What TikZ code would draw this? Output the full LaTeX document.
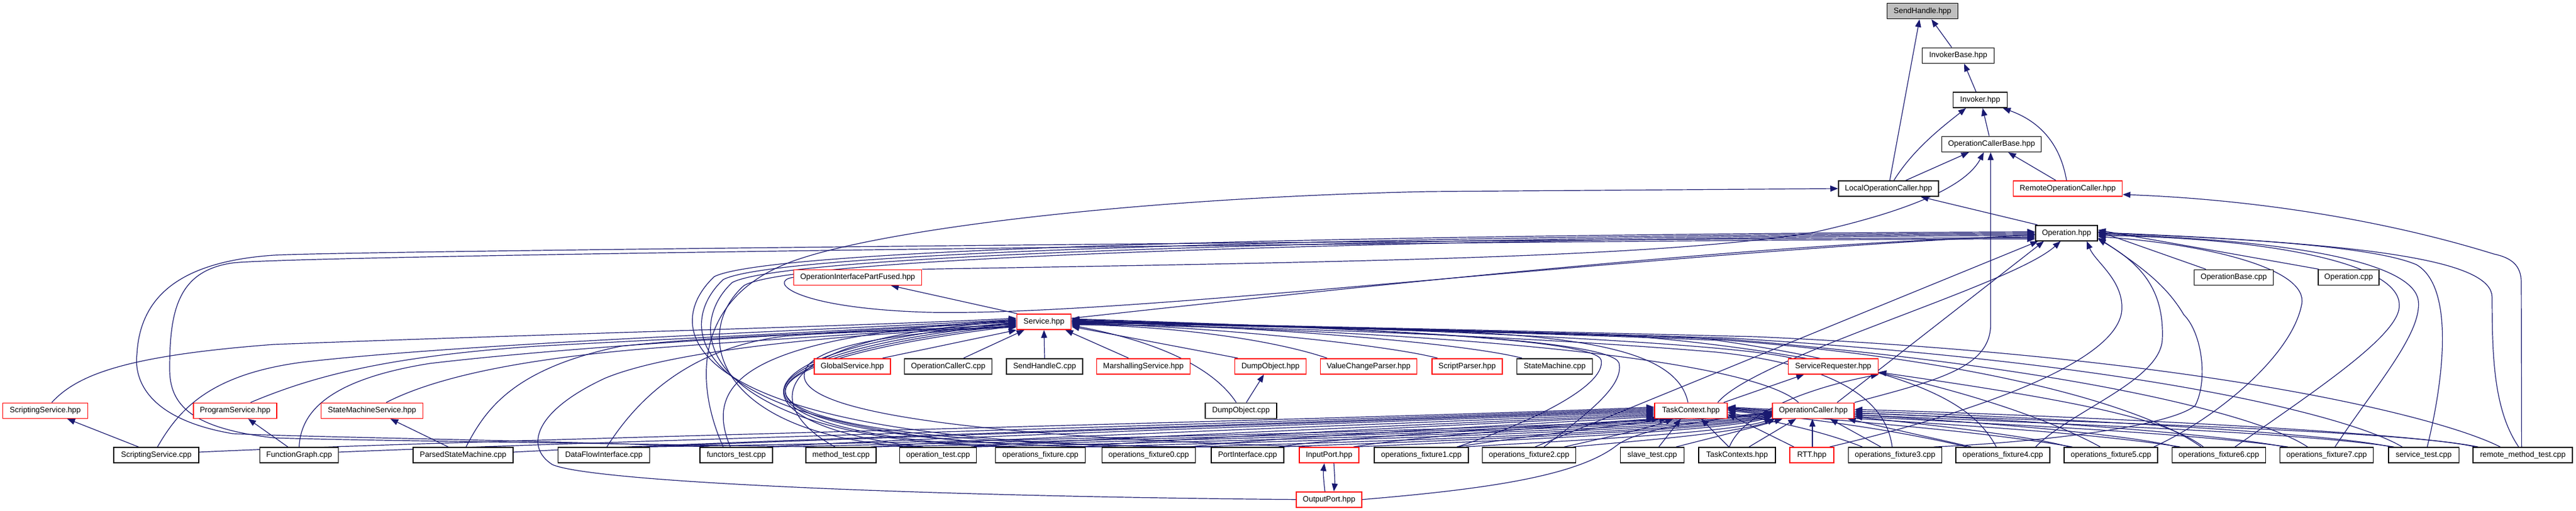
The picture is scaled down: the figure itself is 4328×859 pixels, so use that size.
\documentclass[tikz,border=0pt]{standalone}
\usepackage{fontspec}
\newfontfamily\lsans{Liberation Sans}
\usetikzlibrary{arrows.meta}
\pgfdeclarelayer{bg}
\pgfsetlayers{bg,main}
\definecolor{edgeblue}{HTML}{191970}
\definecolor{rootgray}{HTML}{BFBFBF}
\definecolor{redline}{HTML}{FF0000}
\tikzset{
 nd/.style={draw=black, line width=1.6pt, fill=white, minimum height=26pt, inner sep=0pt, font=\lsans\fontsize{13pt}{15pt}\selectfont, text=black},
 rnd/.style={nd, draw=redline},
 rootnd/.style={nd, fill=rootgray},
 e/.style={draw=edgeblue, line width=1.2pt, -{Triangle[length=13pt,width=10pt]}},
}
\begin{document}
\begin{tikzpicture}[x=1pt,y=-1pt]
\useasboundingbox (0,0) rectangle (4328,859);
% ---------- nodes ----------
\node[rootnd,minimum width=119pt] (root) at (3230,18.7) {SendHandle.hpp};
\node[nd,minimum width=121pt] (ib) at (3290,93.3) {InvokerBase.hpp};
\node[nd,minimum width=91pt] (inv) at (3327,168) {Invoker.hpp};
\node[nd,minimum width=167pt] (ocb) at (3346,242.3) {OperationCallerBase.hpp};
\node[nd,minimum width=168pt] (loc) at (3173,317) {LocalOperationCaller.hpp};
\node[rnd,minimum width=183pt] (roc) at (3474,317) {RemoteOperationCaller.hpp};
\node[nd,minimum width=104pt] (op) at (3472,391.7) {Operation.hpp};
\node[rnd,minimum width=215pt] (oipf) at (1441,466.3) {OperationInterfacePartFused.hpp};
\node[nd,minimum width=133pt] (obcpp) at (3753,466.3) {OperationBase.cpp};
\node[nd,minimum width=102pt] (opcpp) at (3946,466.3) {Operation.cpp};
\node[rnd,minimum width=91pt] (svc) at (1754,541) {Service.hpp};
\node[rnd,minimum width=128pt] (gs) at (1432,615.7) {GlobalService.hpp};
\node[nd,minimum width=147pt] (occ) at (1593,615.7) {OperationCallerC.cpp};
\node[nd,minimum width=128pt] (shc) at (1755,615.7) {SendHandleC.cpp};
\node[rnd,minimum width=157pt] (ms) at (1921,615.7) {MarshallingService.hpp};
\node[rnd,minimum width=120pt] (doh) at (2134.5,615.7) {DumpObject.hpp};
\node[rnd,minimum width=162pt] (vcp) at (2299.5,615.7) {ValueChangeParser.hpp};
\node[rnd,minimum width=118pt] (sp) at (2465,615.7) {ScriptParser.hpp};
\node[nd,minimum width=127pt] (smc) at (2612,615.7) {StateMachine.cpp};
\node[rnd,minimum width=151pt] (sr) at (3080,615.7) {ServiceRequester.hpp};
\node[rnd,minimum width=143pt] (ssh) at (76,690.3) {ScriptingService.hpp};
\node[rnd,minimum width=140pt] (psh) at (395,690.3) {ProgramService.hpp};
\node[rnd,minimum width=171pt] (smsh) at (625,690.3) {StateMachineService.hpp};
\node[nd,minimum width=120pt] (docpp) at (2085,690.3) {DumpObject.cpp};
\node[rnd,minimum width=122pt] (tc) at (2841,690.3) {TaskContext.hpp};
\node[rnd,minimum width=137pt] (oc) at (3046.6,690.3) {OperationCaller.hpp};
\node[nd,minimum width=143pt] (sscpp) at (262.6,765) {ScriptingService.cpp};
\node[nd,minimum width=132pt] (fg) at (502.6,765) {FunctionGraph.cpp};
\node[nd,minimum width=168pt] (psm) at (778,765) {ParsedStateMachine.cpp};
\node[nd,minimum width=154pt] (dfi) at (1014.6,765) {DataFlowInterface.cpp};
\node[nd,minimum width=122pt] (ft) at (1237,765) {functors\_test.cpp};
\node[nd,minimum width=118pt] (mt) at (1413,765) {method\_test.cpp};
\node[nd,minimum width=129pt] (ot) at (1576,765) {operation\_test.cpp};
\node[nd,minimum width=151pt] (of) at (1748,765) {operations\_fixture.cpp};
\node[nd,minimum width=157pt] (of0) at (1930,765) {operations\_fixture0.cpp};
\node[nd,minimum width=122.5pt] (pi) at (2096,765) {PortInterface.cpp};
\node[rnd,minimum width=100pt] (ip) at (2233,765) {InputPort.hpp};
\node[nd,minimum width=157.5pt] (of1) at (2388,765) {operations\_fixture1.cpp};
\node[nd,minimum width=157pt] (of2) at (2569,765) {operations\_fixture2.cpp};
\node[nd,minimum width=107pt] (st) at (2776,765) {slave\_test.cpp};
\node[nd,minimum width=129pt] (tcs) at (2918.6,765) {TaskContexts.hpp};
\node[rnd,minimum width=74pt] (rtt) at (3044,765) {RTT.hpp};
\node[nd,minimum width=157pt] (of3) at (3184,765) {operations\_fixture3.cpp};
\node[nd,minimum width=157.5pt] (of4) at (3365,765) {operations\_fixture4.cpp};
\node[nd,minimum width=157pt] (of5) at (3546.7,765) {operations\_fixture5.cpp};
\node[nd,minimum width=157pt] (of6) at (3728,765) {operations\_fixture6.cpp};
\node[nd,minimum width=157pt] (of7) at (3909,765) {operations\_fixture7.cpp};
\node[nd,minimum width=118.5pt] (svt) at (4072,765) {service\_test.cpp};
\node[nd,minimum width=167pt] (rmt) at (4238.6,765) {remote\_method\_test.cpp};
\node[rnd,minimum width=110.5pt] (outp) at (2233,839.7) {OutputPort.hpp};
% ---------- edges ----------
\begin{pgfonlayer}{bg}
\fill[white] (0,0) rectangle (4328,859);
% top cluster
\draw[e] ([xshift=-11pt]ib.north) -- ([xshift=15pt]root.south);
\draw[e] ([xshift=2pt]loc.north) -- ([xshift=-5pt]root.south);
\draw[e] ([xshift=-7pt]inv.north) -- ([xshift=10pt]ib.south);
\draw[e] ([xshift=-4pt]ocb.north) -- ([xshift=4pt]inv.south);
\draw[e] ([xshift=9pt]loc.north) .. controls (3215,250) and (3265,212) .. ([xshift=-24pt]inv.south);
\draw[e] ([xshift=-2pt]roc.north) .. controls (3462,245) and (3430,205) .. ([xshift=38pt]inv.south);
\draw[e] ([xshift=29pt]loc.north) -- ([xshift=-38pt]ocb.south);
\draw[e] ([xshift=-20pt]roc.north) -- ([xshift=28pt]ocb.south);
\draw[e] ([xshift=-49pt]op.north) -- ([xshift=54pt]loc.south);
\draw[e] ([xshift=-2pt]rmt.north) -- (4236,475) .. controls (4236,445) and (4218,433) .. (4190,427) .. controls (4000,368) and (3780,335) .. ([yshift=-10pt]roc.east);
\draw[e] ([xshift=-22pt]ft.north) .. controls (1165,640) and (1165,490) .. (1350,433) .. controls (1500,385) and (1900,333) .. (2400,322) -- (loc.west);
\draw[e] (oipf.north east) .. controls (2300,440) and (2800,432) .. (3050,390) .. controls (3250,345) and (3310,300) .. ([xshift=-13pt]ocb.south);
\draw[e] (oc.north east) .. controls (3250,640) and (3344.5,620) .. (3344.5,545) -- ([xshift=-1.5pt]ocb.south);
% Service.hpp
\draw[e] ([xshift=-45pt]svc.north) -- ([xshift=56pt]oipf.south);
\draw[e] ([xshift=11pt]ssh.north) .. controls (130,630) and (210,598) .. (460,579) .. controls (900,562) and (1450,548) .. ([yshift=6pt]svc.west);
\draw[e] ([xshift=2pt]sscpp.north) .. controls (300,690) and (350,630) .. (507,609) .. controls (800,575) and (1450,552) .. ([yshift=4pt]svc.west);
\draw[e] ([xshift=26pt]psh.north) .. controls (520,635) and (640,600) .. (900,582) .. controls (1200,566) and (1500,552) .. ([yshift=2pt]svc.west);
\draw[e] (fg.north) .. controls (505,700) and (540,640) .. (722,611) .. controls (1000,578) and (1450,556) .. (svc.west);
\draw[e] ([xshift=24pt]smsh.north) .. controls (720,640) and (850,605) .. (1100,585) .. controls (1350,566) and (1550,556) .. ([yshift=-2pt]svc.west);
\draw[e] ([xshift=5pt]psm.north) .. controls (815,690) and (860,620) .. (1043,582) .. controls (1250,560) and (1500,558) .. ([yshift=-4pt]svc.west);
\draw[e] ([xshift=5pt]dfi.north) .. controls (1065,680) and (1150,585) .. (1320,565) .. controls (1450,555) and (1600,556) .. ([yshift=-6pt]svc.west);
\draw[e] (outp.west) .. controls (1600,835) and (1000,812) .. (928,781) .. controls (880,750) and (900,690) .. (1016,636) .. controls (1150,580) and (1500,558) .. ([yshift=-8pt]svc.west);
\draw[e] ([xshift=-10pt]ft.north) .. controls (1180,640) and (1260,565) .. ([yshift=3pt]svc.west);
\draw[e] ([xshift=-10pt]mt.north) .. controls (1290,690) and (1260,570) .. ([yshift=1pt]svc.west);
\draw[e] ([xshift=-25pt]ot.north) .. controls (1250,720) and (1180,590) .. ([yshift=-1pt]svc.west);
\draw[e] ([xshift=-40pt]of.north) .. controls (1220,735) and (1160,600) .. ([yshift=-3pt]svc.west);
\draw[e] ([xshift=-55pt]of0.north) .. controls (1200,745) and (1140,610) .. ([yshift=-5pt]svc.west);
\draw[e] ([xshift=-45pt]pi.north) .. controls (1180,750) and (1120,620) .. ([yshift=-7pt]svc.west);
\draw[e] ([xshift=-30pt]ip.north) .. controls (1700,735) and (1330,700) .. (1352,625) .. controls (1365,575) and (1550,556) .. ([yshift=-9pt]svc.west);
\draw[e] ([xshift=51pt]gs.north) -- (svc.south west);
\draw[e] ([xshift=26pt]occ.north) -- ([xshift=-33pt]svc.south);
\draw[e] (shc.north) -- (svc.south);
\draw[e] ([xshift=-25pt]ms.north) -- ([xshift=36pt]svc.south);
\draw[e] ([xshift=-55pt]doh.north) -- ([yshift=-8pt]svc.east);
\draw[e] ([xshift=-8pt]docpp.north) .. controls (2040,620) and (1950,575) .. ([yshift=-6pt]svc.east);
\draw[e] ([xshift=-70pt]vcp.north) .. controls (2150,575) and (2000,550) .. ([yshift=-4pt]svc.east);
\draw[e] ([xshift=-50pt]sp.north) .. controls (2330,580) and (2050,550) .. ([yshift=-2pt]svc.east);
\draw[e] ([xshift=-55pt]smc.north) .. controls (2450,575) and (2100,548) .. (svc.east);
\draw[e] ([xshift=-5pt]tc.north) .. controls (2820,600) and (2700,565) .. (2400,556) .. controls (2100,548) and (1900,545) .. ([yshift=2pt]svc.east);
\draw[e] ([xshift=60pt]of1.north) .. controls (2560,715) and (2700,650) .. (2690,605) .. controls (2680,570) and (2300,552) .. ([yshift=4pt]svc.east);
\draw[e] ([xshift=25pt]of2.north) .. controls (2660,700) and (2730,650) .. (2720,610) .. controls (2705,570) and (2300,552) .. ([yshift=5pt]svc.east);
\draw[e] ([xshift=-70pt]sr.north) .. controls (2900,575) and (2300,548) .. ([yshift=1pt]svc.east);
\draw[e] ([xshift=-25pt]oc.north) .. controls (2950,610) and (2500,558) .. ([yshift=-3pt]svc.east);
\draw[e] ([xshift=-5pt]of3.north) .. controls (3170,680) and (3100,615) .. (2884,592) .. controls (2500,560) and (2000,546) .. ([yshift=-5pt]svc.east);
\draw[e] ([xshift=-11pt]of4.north) .. controls (3320,690) and (3250,625) .. (2884,572) .. controls (2500,556) and (2000,546) .. ([yshift=-1pt]svc.east);
\draw[e] ([xshift=-18pt]of5.north) .. controls (3400,680) and (3100,590) .. (2700,562) .. controls (2300,551) and (2000,545) .. ([yshift=1pt]svc.east);
\draw[e] ([xshift=-30pt]of6.north) .. controls (3600,680) and (3300,595) .. (2800,565) .. controls (2300,551) and (2000,545) .. ([yshift=3pt]svc.east);
\draw[e] ([xshift=-32pt]of7.north) .. controls (3800,700) and (3500,620) .. (2900,570) .. controls (2300,551) and (2000,545) .. ([yshift=-2pt]svc.east);
\draw[e] ([xshift=-36pt]svt.north) .. controls (3950,700) and (3600,610) .. (2900,568) .. controls (2300,551) and (2000,545) .. (svc.east);
\draw[e] ([xshift=-38pt]rmt.north) .. controls (4100,700) and (3700,600) .. (2950,566) .. controls (2300,550) and (2000,545) .. ([yshift=2pt]svc.east);
% TaskContext.hpp
\draw[e] ([yshift=5pt]sscpp.east) .. controls (800,738) and (2300,705) .. ([yshift=6pt]tc.west);
\draw[e] ([yshift=5pt]fg.east) .. controls (1000,742) and (2300,706) .. ([yshift=4pt]tc.west);
\draw[e] ([yshift=5pt]psm.east) .. controls (1200,742) and (2300,707) .. ([yshift=2pt]tc.west);
\draw[e] ([xshift=-10pt]dfi.north east) .. controls (1400,738) and (2300,708) .. (tc.west);
\draw[e] ([xshift=-10pt]ft.north east) .. controls (1500,738) and (2350,708) .. ([yshift=-2pt]tc.west);
\draw[e] ([xshift=-10pt]mt.north east) .. controls (1650,738) and (2400,710) .. ([yshift=-4pt]tc.west);
\draw[e] ([xshift=-10pt]ot.north east) .. controls (1800,738) and (2450,712) .. ([yshift=-6pt]tc.west);
\draw[e] ([xshift=-10pt]of.north east) .. controls (1950,738) and (2500,712) .. ([yshift=-8pt]tc.west);
\draw[e] ([xshift=-10pt]of0.north east) .. controls (2100,738) and (2550,714) .. ([yshift=-10pt]tc.west);
\draw[e] ([xshift=-10pt]pi.north east) .. controls (2250,735) and (2600,716) .. (tc.south west);
\draw[e] ([xshift=-10pt]ip.north east) .. controls (2400,730) and (2650,716) .. ([xshift=9pt]tc.south west);
\draw[e] ([xshift=-20pt]of1.north east) .. controls (2550,735) and (2700,718) .. ([xshift=-40pt]tc.south);
\draw[e] ([xshift=-20pt]of2.north east) .. controls (2700,735) and (2770,720) .. ([xshift=-30pt]tc.south);
\draw[e] ([xshift=11pt]st.north) -- ([xshift=-17pt]tc.south);
\draw[e] ([xshift=-14pt]tcs.north) -- ([xshift=17pt]tc.south);
\draw[e] ([xshift=-30pt]rtt.north) -- ([yshift=-6pt]tc.east);
\draw[e] ([xshift=-55pt]of3.north) .. controls (3050,720) and (2960,705) .. ([yshift=-3pt]tc.east);
\draw[e] ([xshift=-60pt]of4.north) .. controls (3150,715) and (3000,700) .. (tc.east);
\draw[e] ([xshift=-65pt]of5.north) .. controls (3300,720) and (3050,705) .. ([yshift=2pt]tc.east);
\draw[e] ([xshift=-65pt]of6.north) .. controls (3450,718) and (3100,706) .. ([yshift=3pt]tc.east);
\draw[e] ([xshift=-65pt]of7.north) .. controls (3600,718) and (3150,706) .. ([yshift=4pt]tc.east);
\draw[e] ([xshift=-50pt]svt.north) .. controls (3800,718) and (3200,706) .. ([yshift=5pt]tc.east);
\draw[e] ([xshift=-75pt]rmt.north) .. controls (4000,718) and (3300,706) .. ([yshift=6pt]tc.east);
% OperationCaller.hpp
\draw[e] ([xshift=-5pt]dfi.north east) .. controls (1450,745) and (2650,724) .. ([yshift=-3pt]oc.west);
\draw[e] ([xshift=-5pt]ft.north east) .. controls (1600,745) and (2700,725) .. ([yshift=-4pt]oc.west);
\draw[e] ([xshift=-5pt]mt.north east) .. controls (1750,745) and (2750,725) .. ([yshift=-5pt]oc.west);
\draw[e] ([xshift=-5pt]ot.north east) .. controls (1900,745) and (2800,726) .. ([yshift=-6pt]oc.west);
\draw[e] ([xshift=-5pt]of.north east) .. controls (2050,745) and (2820,727) .. ([yshift=-7pt]oc.west);
\draw[e] ([xshift=-5pt]of0.north east) .. controls (2200,745) and (2840,728) .. ([yshift=-8pt]oc.west);
\draw[e] ([xshift=-5pt]pi.north east) .. controls (2300,745) and (2860,728) .. ([yshift=-9pt]oc.west);
\draw[e] ([xshift=-5pt]ip.north east) .. controls (2400,745) and (2880,729) .. ([yshift=-10pt]oc.west);
\draw[e] ([xshift=-5pt]of1.north east) .. controls (2550,745) and (2900,730) .. (oc.south west);
\draw[e] ([xshift=-5pt]of2.north east) .. controls (2700,745) and (2920,730) .. ([xshift=5pt]oc.south west);
\draw[e] (outp.east) .. controls (2500,822) and (2650,800) .. (2716,749) .. controls (2760,715) and (2900,705) .. ([yshift=-2pt]oc.west);
\draw[e] ([xshift=40pt]st.north) .. controls (2880,735) and (2960,715) .. ([xshift=-52pt]oc.south);
\draw[e] ([xshift=20pt]tcs.north) -- ([xshift=-29pt]oc.south);
\draw[e] ([xshift=1pt]rtt.north) -- ([xshift=-1.6pt]oc.south);
\draw[e] ([xshift=-24pt]of3.north) -- ([xshift=28pt]oc.south);
\draw[e] ([xshift=-53pt]of4.north) -- ([xshift=58pt]oc.south);
\draw[e] ([xshift=-70pt]of5.north) .. controls (3400,730) and (3200,710) .. ([yshift=-10pt]oc.east);
\draw[e] ([xshift=-70pt]of6.north) .. controls (3550,725) and (3250,705) .. ([yshift=-7pt]oc.east);
\draw[e] ([xshift=-70pt]of7.north) .. controls (3700,725) and (3300,700) .. ([yshift=-4pt]oc.east);
\draw[e] ([xshift=-55pt]svt.north) .. controls (3900,725) and (3350,698) .. ([yshift=-1pt]oc.east);
\draw[e] ([xshift=-80pt]rmt.north) .. controls (4050,725) and (3400,696) .. ([yshift=2pt]oc.east);
% ServiceRequester.hpp
\draw[e] ([xshift=55pt]tc.north) -- ([xshift=-49pt]sr.south);
\draw[e] ([xshift=-13pt]tcs.north) .. controls (2930,690) and (3050,650) .. (sr.south east);
\draw[e] ([xshift=-26pt]of6.north) .. controls (3640,705) and (3500,675) .. ([yshift=-10pt]sr.east);
% Operation.hpp
\draw[e] ([yshift=6pt]svc.east) .. controls (2300,480) and (3000,405) .. ([yshift=-6pt]op.west);
\draw[e] (oipf.west) .. controls (1290,472) and (1330,518) .. (1560,525) .. controls (1900,532) and (2700,430) .. ([yshift=-3pt]op.west);
\draw[e] ([xshift=-45pt]ft.north) .. controls (900,740) and (520,735) .. (391,729) .. controls (250,705) and (225,640) .. (230,596) .. controls (235,500) and (300,440) .. (460,429) .. controls (600,421) and (2800,400) .. ([yshift=-8pt]op.west);
\draw[e] ([xshift=-45pt]mt.north) .. controls (1000,745) and (560,740) .. (460,736) .. controls (320,720) and (285,680) .. (285,620) .. controls (285,520) and (300,455) .. (391,442) .. controls (500,428) and (2800,402) .. ([yshift=-10pt]op.west);
\draw[e] ([xshift=-35pt]ot.north) .. controls (1200,735) and (1160,560) .. (1250,480) .. controls (1350,420) and (2800,398) .. ([yshift=-4pt]op.west);
\draw[e] ([xshift=-50pt]of.north) .. controls (1190,742) and (1140,560) .. (1230,475) .. controls (1340,415) and (2800,396) .. ([yshift=-2pt]op.west);
\draw[e] ([xshift=-65pt]of0.north) .. controls (1170,748) and (1120,560) .. (1215,470) .. controls (1330,410) and (2800,394) .. (op.west);
\draw[e] ([xshift=-52pt]pi.north) .. controls (1150,752) and (1100,560) .. (1200,465) .. controls (1320,405) and (2800,392) .. ([yshift=2pt]op.west);
\draw[e] ([xshift=10pt]of2.north) -- ([xshift=5pt]op.south west);
\draw[e] ([xshift=40pt]oc.north) -- ([xshift=-38pt]op.south);
\draw[e] ([xshift=45pt]tc.north) .. controls (2950,600) and (3380,480) .. ([xshift=-10pt]op.south);
\draw[e] ([xshift=30pt]rtt.north) .. controls (3250,710) and (3560,620) .. (3565,520) .. controls (3567,470) and (3520,440) .. ([xshift=34pt]op.south);
\draw[e] ([xshift=65pt]of3.north) .. controls (3400,745) and (3640,720) .. (3688,682) .. controls (3710,640) and (3700,560) .. (3669,529) .. controls (3640,480) and (3600,450) .. ([yshift=-8pt]op.east);
\draw[e] ([xshift=55pt]of4.north) .. controls (3480,690) and (3630,640) .. (3633,570) .. controls (3636,490) and (3600,445) .. ([yshift=-10pt]op.east);
\draw[e] ([xshift=72pt]of5.north) .. controls (3720,705) and (3850,600) .. (3867,512) .. controls (3880,450) and (3700,410) .. ([yshift=-6pt]op.east);
\draw[e] ([xshift=27pt]of6.north) .. controls (3900,650) and (4035,560) .. (4031,512) .. controls (4030,440) and (3800,400) .. ([yshift=-4pt]op.east);
\draw[e] ([xshift=14pt]of7.north) .. controls (3990,650) and (4070,560) .. (4063,505) .. controls (4055,450) and (3900,405) .. ([yshift=-2pt]op.east);
\draw[e] ([xshift=6pt]svt.north) .. controls (4110,620) and (4120,480) .. (4060,445) .. controls (3980,410) and (3700,398) .. (op.east);
\draw[e] ([xshift=-7pt]rmt.north) .. controls (4190,690) and (4187,600) .. (4187,500) .. controls (4187,440) and (4000,410) .. ([yshift=1pt]op.east);
\draw[e] ([xshift=-47pt]obcpp.north) -- ([yshift=3pt]op.east);
\draw[e] ([xshift=-50pt]opcpp.north) -- ([yshift=5pt]op.east);
% misc
\draw[e] ([xshift=9pt]docpp.north) -- ([xshift=-11pt]doh.south);
\draw[e] ([xshift=-30pt]sscpp.north) -- ([xshift=37pt]ssh.south);
\draw[e] ([xshift=-19pt]fg.north) -- ([xshift=22pt]psh.south);
\draw[e] ([xshift=-25pt]psm.north) -- ([xshift=31pt]smsh.south);
\draw[e] ([xshift=-7pt]outp.north) .. controls (2224,810) and (2223,795) .. ([xshift=-8pt]ip.south);
\draw[e] ([xshift=8pt]ip.south) .. controls (2242,795) and (2243,810) .. ([xshift=8pt]outp.north);
\end{pgfonlayer}
\end{tikzpicture}
\end{document}
